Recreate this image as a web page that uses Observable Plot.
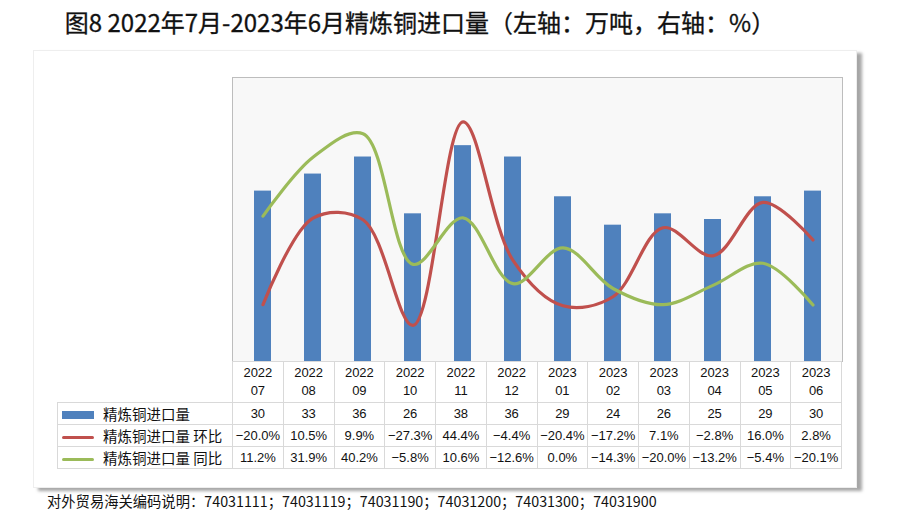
<!DOCTYPE html>
<html>
<head>
<meta charset="utf-8">
<script src="https://cdn.jsdelivr.net/npm/d3@7"></script>
<script src="https://cdn.jsdelivr.net/npm/@observablehq/plot@0.6"></script>
<style>
  html, body { margin: 0; padding: 0; background: #fff; }
  #wrap { position: relative; width: 900px; height: 515px; overflow: hidden; font-family: "Noto Sans CJK SC", "Noto Sans", sans-serif; color: #111; }
  #title { position: absolute; left: 0; top: 5px; width: 840px; text-align: center; font-size: 24px; font-weight: 400; line-height: 34px; color: #111; -webkit-text-stroke: 0.3px #111; }
  #frame { position: absolute; left: 33px; top: 50px; width: 822px; height: 436px; background: #fff; border: 1px solid #eeeeee; box-shadow: 5px 3px 3px rgba(0,0,0,0.35); }
  #chart { position: absolute; left: 0; top: 60px; }
  #tbl { position: absolute; left: 57px; top: 361px; border-collapse: collapse; table-layout: fixed; width: 785px; font-family: "Liberation Sans", Arial, sans-serif; font-size: 13px; }
  #tbl td { border: 1px solid #d9d9d9; text-align: center; padding: 0; white-space: nowrap; overflow: hidden; color: #111; }
  #tbl tr.hdr td { height: 40px; line-height: 18px; }
  #tbl tr.hdr td.blank { border: none; border-right: 1px solid #d9d9d9; }
  #tbl tr.row td { height: 21px; line-height: 21px; }
  #tbl td.lab { text-align: left; font-family: "Noto Sans CJK SC", sans-serif; font-size: 14.5px; padding-left: 4px; }
  .sw { display: inline-block; width: 32px; vertical-align: middle; margin-right: 9px; position: relative; top: -1px; }
  #note { position: absolute; left: 47px; top: 490px; font-size: 14.3px; line-height: 22px; color: #111; }
</style>
</head>
<body>
<div id="wrap">
  <div id="frame"></div>
  <div id="title">图8 2022年7月-2023年6月精炼铜进口量（左轴：万吨，右轴：%）</div>
  <div id="chart"></div>
  <table id="tbl"></table>
  <div id="note">对外贸易海关编码说明：74031111；74031119；74031190；74031200；74031300；74031900</div>
</div>
<script>
// ---- data ----
const years   = ["2022","2022","2022","2022","2022","2022","2023","2023","2023","2023","2023","2023"];
const months  = ["07","08","09","10","11","12","01","02","03","04","05","06"];
const volume  = [30, 33, 36, 26, 38, 36, 29, 24, 26, 25, 29, 30];           // 万吨
const mom     = [-20.0, 10.5, 9.9, -27.3, 44.4, -4.4, -20.4, -17.2, 7.1, -2.8, 16.0, 2.8]; // 环比 %
const yoy     = [11.2, 31.9, 40.2, -5.8, 10.6, -12.6, 0.0, -14.3, -20.0, -13.2, -5.4, -20.1]; // 同比 %
const seriesNames = ["精炼铜进口量", "精炼铜进口量 环比", "精炼铜进口量 同比"];
const leftDomain = [0, 50];
const rightDomain = [-40, 60];

const colors = ["#4f81bd", "#c0504d", "#9bbb59"];

const cats = years.map((y, i) => y + "-" + months[i]);
const rows = cats.map((c, i) => ({cat: c, vol: volume[i], mom: mom[i], yoy: yoy[i]}));

// right axis values expressed on the left (bar) scale
const r2l = d3.scaleLinear().domain(rightDomain).range(leftDomain);

const fmtPct = v => (v < 0 ? "\u2212" : "") + Math.abs(v).toFixed(1) + "%";

const chart = Plot.plot({
  width: 900,
  height: 310,
  marginLeft: 232,
  marginRight: 58,
  marginTop: 17,
  marginBottom: 9,
  style: {background: "transparent", overflow: "visible"},
  x: {type: "band", domain: cats, paddingInner: 0.665, paddingOuter: 0.3325, axis: null},
  y: {domain: leftDomain, axis: null},
  marks: [
    Plot.frame({fill: "#f8f8f8", stroke: "#bdbdbd"}),
    Plot.barY(rows, {x: "cat", y: "vol", fill: colors[0]}),
    Plot.line(rows, {x: "cat", y: d => r2l(d.mom), stroke: colors[1], strokeWidth: 3.2, curve: "catmull-rom"}),
    Plot.line(rows, {x: "cat", y: d => r2l(d.yoy), stroke: colors[2], strokeWidth: 3.2, curve: "catmull-rom"})
  ]
});
document.getElementById("chart").appendChild(chart);

// ---- data table ----
const tbl = document.getElementById("tbl");
let html = '<colgroup><col style="width:175px">' + cats.map(() => '<col>').join("") + '</colgroup>';
html += '<tr class="hdr"><td class="blank"></td>' + years.map((y, i) => `<td>${y}<br>${months[i]}</td>`).join("") + '</tr>';
const swatches = [
  `<span class="sw" style="height:8px;background:${colors[0]}"></span>`,
  `<span class="sw" style="height:3px;background:${colors[1]};border-radius:2px"></span>`,
  `<span class="sw" style="height:3px;background:${colors[2]};border-radius:2px"></span>`
];
const vals = [volume.map(v => String(v)), mom.map(fmtPct), yoy.map(fmtPct)];
seriesNames.forEach((name, k) => {
  html += `<tr class="row"><td class="lab">${swatches[k]}${name}</td>` + vals[k].map(v => `<td>${v}</td>`).join("") + '</tr>';
});
tbl.innerHTML = html;
</script>
</body>
</html>
